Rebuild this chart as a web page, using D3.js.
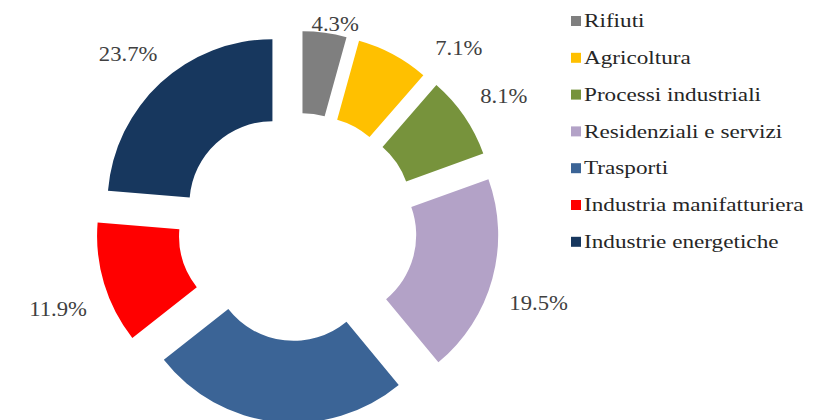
<!DOCTYPE html>
<html>
<head>
<meta charset="utf-8">
<script src="https://cdn.jsdelivr.net/npm/d3@7"></script>
<style>
  body { margin: 0; background: #fff; }
  svg { display: block; }
  .pct { font-family: "Liberation Serif", "Times New Roman", serif; font-size: 21px; fill: #404040; }
  .leg { font-family: "Liberation Serif", "Times New Roman", serif; font-size: 19px; fill: #262626; }
</style>
</head>
<body>
<div id="chart"></div>
<script>
// categories and shares (%) in drawing order, clockwise from 12 o'clock
var categories = ["Rifiuti", "Agricoltura", "Processi industriali", "Residenziali e servizi",
  "Trasporti", "Industria manifatturiera", "Industrie energetiche"];
var shares = [4.3, 7.1, 8.1, 19.5, 25.4, 11.9, 23.7];
var colors = ["#7f7f7f", "#ffc000", "#77933c", "#b3a2c7", "#3b6496", "#ff0000", "#17375e"];

var svgWidth = 815;
var svgHeight = 420;

var cx = 297.5, cy = 227;
var outerR = 165, innerR = 83;
// slices pulled out from the centre (a bit more sideways than up/down)
var explodeX = 37, explodeY = 31;
var labelR = 250, labelCy = 237;

// small labels moved by hand so they stay in the picture
var labelShift = {
  "Rifiuti": [4, 34],
  "Agricoltura": [43, 31]
};

var svg = d3.select("#chart")
  .append("svg")
  .attr("width", svgWidth)
  .attr("height", svgHeight);

var data = categories.map(function(c, i) {
  return { name: c, value: shares[i], color: colors[i] };
});

var pie = d3.pie()
  .sort(null)
  .value(d => d.value);

var arc = d3.arc()
  .innerRadius(innerR)
  .outerRadius(outerR);

var arcs = pie(data);

function mid(d) { return (d.startAngle + d.endAngle) / 2; }

function labelPos(d) {
  var a = mid(d);
  var s = labelShift[d.data.name] || [0, 0];
  return [cx + labelR * Math.sin(a) + s[0], labelCy - labelR * Math.cos(a) + s[1]];
}

// donut slices
svg.append("g")
  .attr("transform", `translate(${cx}, ${cy})`)
  .selectAll("path")
  .data(arcs)
  .enter()
  .append("path")
  .attr("d", arc)
  .attr("fill", d => d.data.color)
  .attr("transform", function(d) {
    var a = mid(d);
    return `translate(${explodeX * Math.sin(a)}, ${-explodeY * Math.cos(a)})`;
  });

// percentage labels (the one that would fall below the picture is left out)
svg.append("g")
  .selectAll("text")
  .data(arcs.filter(d => labelPos(d)[1] < svgHeight - 10))
  .enter()
  .append("text")
  .attr("class", "pct")
  .attr("text-anchor", "middle")
  .attr("dy", "0.35em")
  .attr("transform", function(d) {
    var p = labelPos(d);
    return `translate(${p[0]}, ${p[1]}) scale(1.08, 1)`;
  })
  .text(d => d3.format(".1f")(d.data.value) + "%");

// legend
var legendY = d3.scalePoint()
  .domain(categories)
  .range([21, 241.8]);

var legend = svg.append("g")
  .selectAll("g")
  .data(data)
  .enter()
  .append("g")
  .attr("transform", d => `translate(571, ${legendY(d.name)})`);

legend.append("rect")
  .attr("x", 0)
  .attr("y", -5)
  .attr("width", 10)
  .attr("height", 10)
  .attr("fill", d => d.color);

legend.append("text")
  .attr("class", "leg")
  .attr("transform", "translate(13, 0) scale(1.22, 1)")
  .attr("dy", "0.33em")
  .text(d => d.name);
</script>
</body>
</html>
